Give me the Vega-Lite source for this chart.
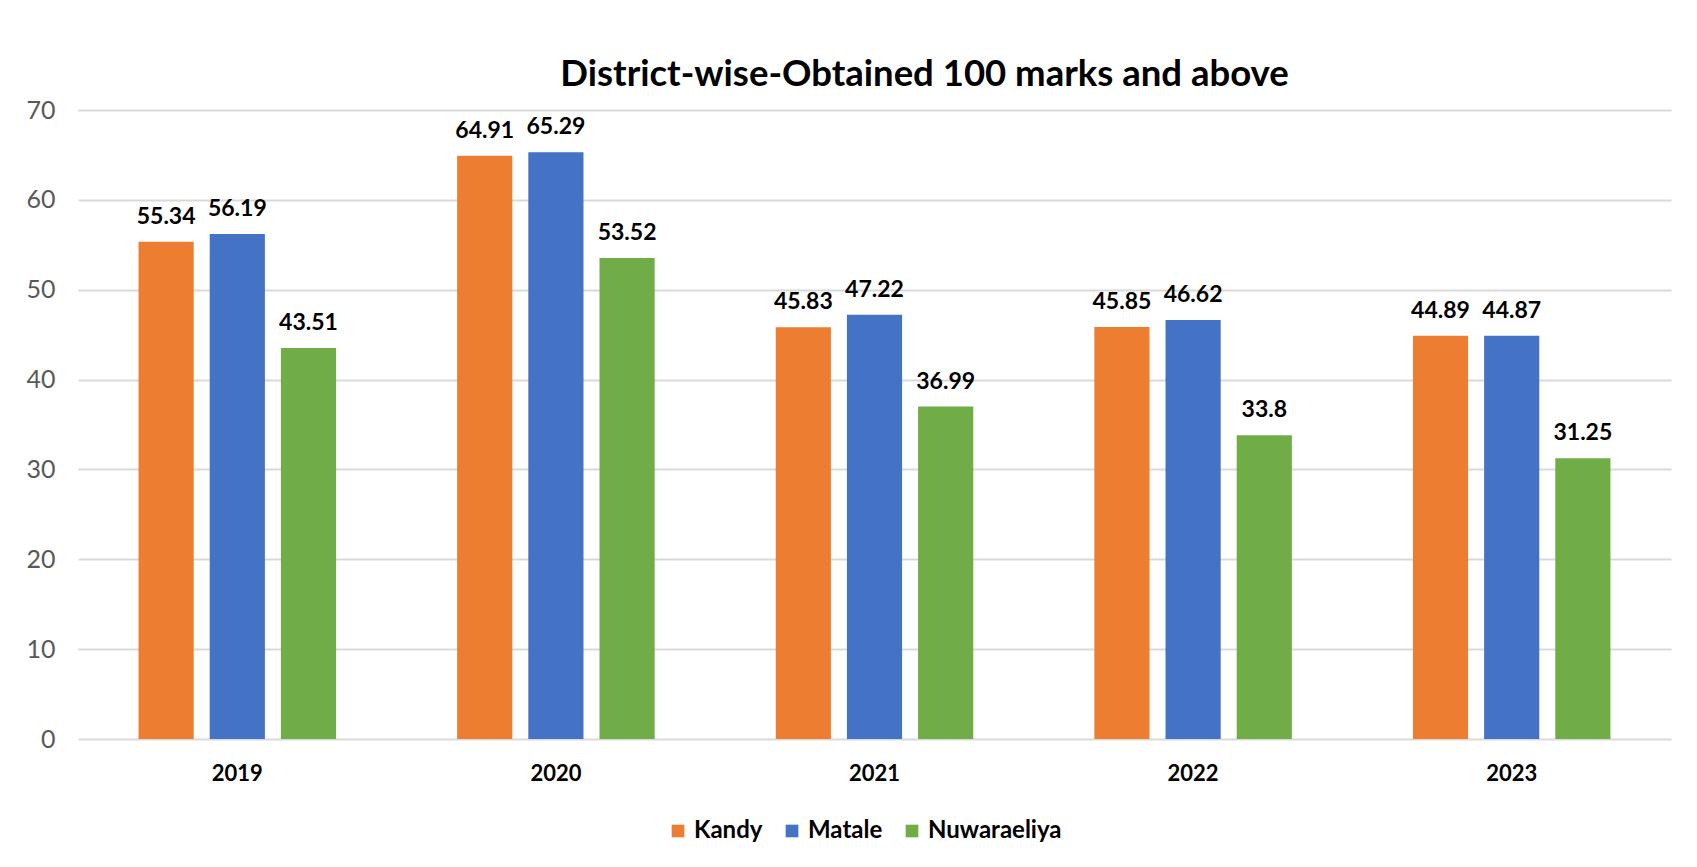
{
  "$schema": "https://vega.github.io/schema/vega-lite/v6.json",
  "autosize": {"type": "none"},
  "padding": {"left": 78, "top": 110, "right": 26, "bottom": 128},
  "width": 1593,
  "height": 629,
  "background": "white",
  "title": {
    "text": "District-wise-Obtained 100 marks and above",
    "font": "Lato",
    "fontSize": 36.5,
    "fontWeight": "bold",
    "color": "#000000",
    "anchor": "middle",
    "baseline": "alphabetic",
    "offset": 25,
    "dx": 50,
    "dy": 49
  },
  "data": {
    "values": [
      {"year": "2019", "district": "Kandy", "value": 55.34},
      {"year": "2019", "district": "Matale", "value": 56.19},
      {"year": "2019", "district": "Nuwaraeliya", "value": 43.51},
      {"year": "2020", "district": "Kandy", "value": 64.91},
      {"year": "2020", "district": "Matale", "value": 65.29},
      {"year": "2020", "district": "Nuwaraeliya", "value": 53.52},
      {"year": "2021", "district": "Kandy", "value": 45.83},
      {"year": "2021", "district": "Matale", "value": 47.22},
      {"year": "2021", "district": "Nuwaraeliya", "value": 36.99},
      {"year": "2022", "district": "Kandy", "value": 45.85},
      {"year": "2022", "district": "Matale", "value": 46.62},
      {"year": "2022", "district": "Nuwaraeliya", "value": 33.8},
      {"year": "2023", "district": "Kandy", "value": 44.89},
      {"year": "2023", "district": "Matale", "value": 44.87},
      {"year": "2023", "district": "Nuwaraeliya", "value": 31.25}
    ]
  },
  "encoding": {
    "x": {
      "field": "year",
      "type": "nominal",
      "scale": {"paddingInner": 0.38, "paddingOuter": 0.19},
      "axis": {
        "title": null,
        "labelAngle": 0,
        "domain": false,
        "ticks": false,
        "labelFont": "Lato",
        "labelFontSize": 22,
        "labelFontWeight": "bold",
        "labelColor": "#000000",
        "labelPadding": 24
      }
    },
    "xOffset": {
      "field": "district",
      "type": "nominal",
      "scale": {"paddingInner": 0.225, "paddingOuter": 0}
    },
    "y": {
      "field": "value",
      "type": "quantitative",
      "scale": {"domain": [0, 70], "nice": false},
      "axis": {
        "title": null,
        "values": [0, 10, 20, 30, 40, 50, 60, 70],
        "domain": false,
        "ticks": false,
        "grid": true,
        "gridColor": "#D9D9D9",
        "gridWidth": 2,
        "labelFont": "Lato",
        "labelFontSize": 25,
        "labelColor": "#595959",
        "labelPadding": 23
      }
    }
  },
  "layer": [
    {
      "mark": {"type": "bar"},
      "encoding": {
        "color": {
          "field": "district",
          "type": "nominal",
          "scale": {
            "domain": ["Kandy", "Matale", "Nuwaraeliya"],
            "range": ["#ED7D31", "#4472C4", "#70AD47"]
          },
          "legend": {
            "title": null,
            "orient": "none",
            "direction": "horizontal",
            "legendX": 588,
            "legendY": 709,
            "symbolType": "square",
            "symbolSize": 160,
            "symbolStrokeWidth": 0,
            "labelFont": "Lato",
            "labelFontSize": 24,
            "labelFontWeight": "bold",
            "labelColor": "#000000",
            "labelOffset": 4,
            "columnPadding": 17
          }
        }
      }
    },
    {
      "mark": {
        "type": "text",
        "baseline": "alphabetic",
        "dy": -18,
        "font": "Lato",
        "fontSize": 23,
        "fontWeight": "bold",
        "color": "#000000"
      },
      "encoding": {
        "text": {"field": "value", "type": "quantitative"}
      }
    }
  ],
  "config": {
    "view": {"stroke": null}
  }
}
